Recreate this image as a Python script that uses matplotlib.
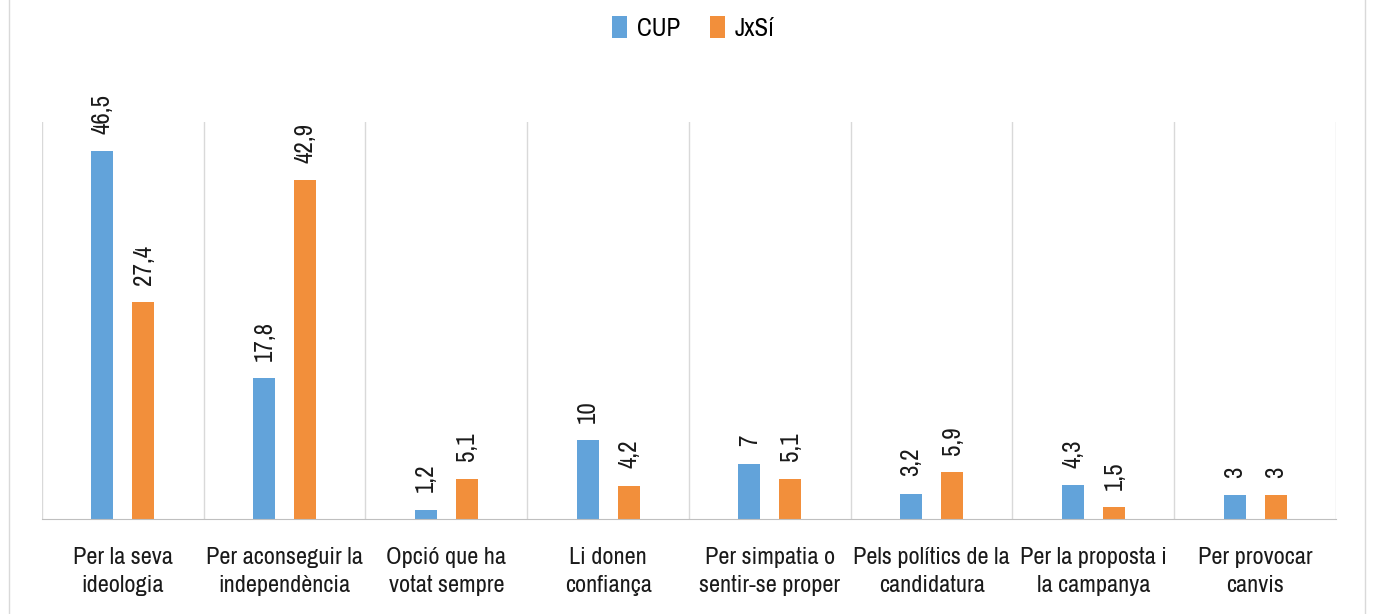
import matplotlib
matplotlib.use("Agg")
import matplotlib.pyplot as plt
import numpy as np
from matplotlib import font_manager
from matplotlib.lines import Line2D

categories = ["Per la seva\nideologia", "Per aconseguir la\nindependència",
              "Opció que ha\nvotat sempre", "Li donen\nconfiança",
              "Per simpatia o\nsentir-se proper", "Pels polítics de la\ncandidatura",
              "Per la proposta i\nla campanya", "Per provocar\ncanvis"]
cup = [46.5, 17.8, 1.2, 10, 7, 3.2, 4.3, 3]
jxsi = [27.4, 42.9, 5.1, 4.2, 5.1, 5.9, 1.5, 3]
series_names = ["CUP", "JxSí"]

# look for a condensed face; otherwise fall back to a smaller regular font
fonts = font_manager.fontManager.ttflist
narrow = [f for f in fonts
          if ("condensed" in f.name.lower() or "narrow" in f.name.lower())
          and f.style == "normal"]
stretchy = [f for f in fonts if str(f.stretch) in ("condensed", "semi-condensed", "extra-condensed")
            and f.style == "normal"]
stretch = "normal"
if narrow:
    fam = narrow[0].name
    size = 17
elif stretchy:
    fam = stretchy[0].name
    stretch = stretchy[0].stretch
    size = 17
else:
    fam = "Liberation Sans"
    size = 14
plt.rcParams["font.family"] = [fam, "DejaVu Sans"]
plt.rcParams["font.stretch"] = stretch

def fmt(v):
    return str(int(v)) if float(v).is_integer() else f"{v:.1f}".replace(".", ",")

fig = plt.figure(figsize=(13.75, 6.14), dpi=100)
ax = fig.add_axes([0.0305, 0.1547, 0.9411, 0.6463])

blue, orange = "#62A3DA", "#F28F3B"
x = np.arange(len(categories))
w = 0.136
off = 0.127
b1 = ax.bar(x - off, cup, w, color=blue, label=series_names[0])
b2 = ax.bar(x + off, jxsi, w, color=orange, label=series_names[1])

for bars, vals in ((b1, cup), (b2, jxsi)):
    for b, v in zip(bars, vals):
        ax.text(b.get_x() + b.get_width() / 2, v + 2.2, fmt(v), rotation=90,
                ha="center", va="bottom", fontsize=size + 1, color="#1a1a1a")

ax.set_xlim(-0.5, len(categories) - 0.5)
ax.set_ylim(0, 50.2)
for b in np.arange(-0.5, len(categories), 1):
    ax.axvline(b, color="#D9D9D9", lw=1, zorder=0)

for s in ["top", "right", "left"]:
    ax.spines[s].set_visible(False)
ax.spines["bottom"].set_color("#BFBFBF")
ax.set_yticks([])
ax.set_xticks(x)
ax.set_xticklabels(categories, fontsize=size + 0.5, color="#1a1a1a", linespacing=1.4)
ax.tick_params(axis="x", length=0, pad=20)

ax.legend(loc="center", bbox_to_anchor=(0.504, 0.955), bbox_transform=fig.transFigure,
          ncol=2, frameon=False, fontsize=size + 1, handlelength=0.6, handleheight=1.0,
          columnspacing=1.2, handletextpad=0.4)

# light frame lines of the original chart box
fig.add_artist(Line2D([9 / 1375, 9 / 1375], [0, 1], color="#D9D9D9", lw=1))
fig.add_artist(Line2D([1365 / 1375, 1365 / 1375], [0, 1], color="#D9D9D9", lw=1))

fig.savefig("out.png", dpi=100)
